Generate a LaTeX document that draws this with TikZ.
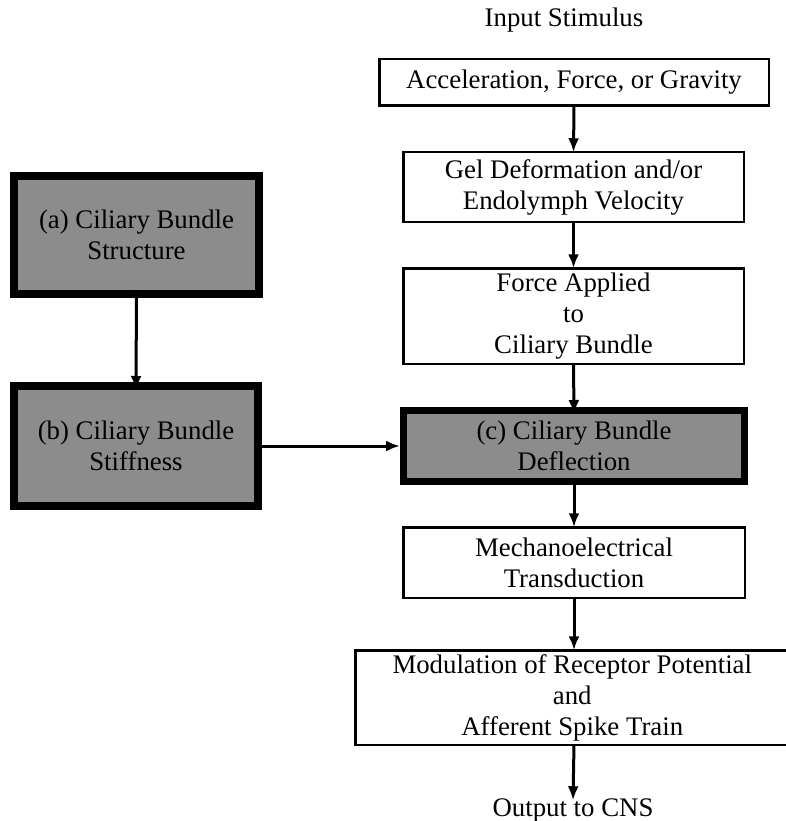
\documentclass[tikz,border=0pt]{standalone}
\usepackage{fontspec}
\setmainfont{Liberation Serif}
\usetikzlibrary{arrows.meta}
\begin{document}
\begin{tikzpicture}[x=1pt,y=-1pt,
  every node/.style={font=\fontsize{26.8}{31}\selectfont, align=center, inner sep=0pt, outer sep=0pt},
  plainbox/.style={draw, line width=2.5pt, fill=white},
  shadebox/.style={draw, line width=8pt, fill=black!45},
  arr/.style={line width=3pt, -{Latex[length=14pt,width=11pt]}},
  lbl/.style={anchor=base}
]
\useasboundingbox (0,0) rectangle (786,821);

\node[lbl] (in) at (564,27) {Input Stimulus};
\node[plainbox, minimum width=389.5pt, minimum height=46.5pt] (acc) at (574,82.5) {Acceleration, Force, or Gravity};
\node[plainbox, minimum width=340.5pt, minimum height=69.5pt] (gel) at (573.5,187) {Gel Deformation and/or\\Endolymph Velocity};
\node[plainbox, minimum width=340.5pt, minimum height=95.5pt] (force) at (573.5,316) {Force Applied\\to\\Ciliary Bundle};
\node[shadebox, line width=7pt, minimum width=341pt, minimum height=71pt] (c) at (574,446) {(c) Ciliary Bundle\\Deflection};
\node[plainbox, minimum width=341.5pt, minimum height=70.5pt] (mech) at (574,562.5) {Mechanoelectrical\\Transduction};
\node[plainbox, minimum width=446pt, minimum height=94.5pt] (mod) at (578.25,697.5) {\hspace*{-12pt}Modulation of Receptor Potential\\\hspace*{-12pt}and\\\hspace*{-12pt}Afferent Spike Train};
\node[lbl] (out) at (573,816) {Output to CNS};

\node[shadebox, minimum width=245pt, minimum height=118pt] (a) at (136.5,235) {(a) Ciliary Bundle\\Structure};
\node[shadebox, minimum width=244pt, minimum height=120pt] (b) at (136,446) {(b) Ciliary Bundle\\Stiffness};

\draw[arr] (acc.south) -- (gel.north);
\draw[arr] (gel.south) -- (force.north);
\draw[arr] (force.south) -- ([yshift=-3.5pt]c.north);
\draw[arr] ([yshift=3.5pt]c.south) -- (mech.north);
\draw[arr] (mech.south) -- (mech.south |- mod.north);
\draw[arr] (mech.south |- mod.south) -- ([yshift=-2pt]out.north);
\draw[arr] ([yshift=4pt]a.south) -- ([yshift=-4pt]b.north);
\draw[arr] ([xshift=4pt]b.east) -- ([xshift=-3.5pt]c.west);
\end{tikzpicture}
\end{document}
